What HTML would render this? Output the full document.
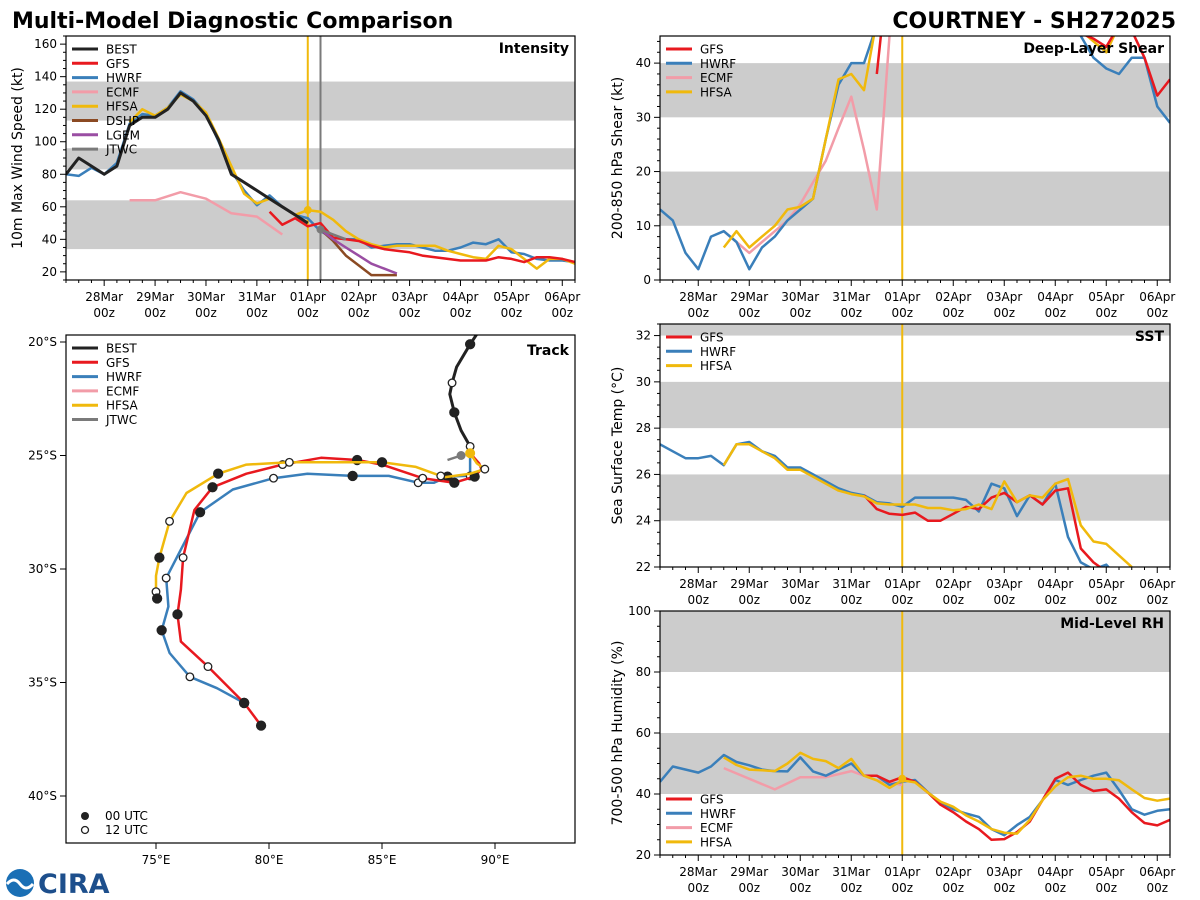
<!DOCTYPE html>
<html><head><meta charset="utf-8"><style>
html,body{margin:0;padding:0;background:#fff;}
svg{display:block;font-family:"DejaVu Sans","Liberation Sans",sans-serif;}
</style></head><body>
<svg id="s" width="1200" height="900" viewBox="0 0 1200 900">
<text x="12" y="28" font-size="22" font-weight="bold">Multi-Model Diagnostic Comparison</text>
<text x="1176" y="28" font-size="22" font-weight="bold" text-anchor="end">COURTNEY - SH272025</text>
<g>
<circle cx="20" cy="883" r="14" fill="#1a6fb5"/>
<path d="M7 884 Q14 876 20 884 T33 884" stroke="#fff" stroke-width="3" fill="none"/>
<text x="38" y="893" font-size="27" font-weight="bold" fill="#1d4f8c">CIRA</text>
</g>
</svg>
<script>
// ---------- time series data (hours from 28Mar 00z) ----------
const intBestT=[-18,-12,-6,0,6,12,18,24,30,36,42,48,54,60,66,72,78,84,90,96];
const intBestV=[80,90,85,80,85,110,115,115,120,130,125,116,101,80,75,70,65,60,55,50];
const intHwrfT=[-18,-12,-6,0,6,12,18,24,30,36,42,48,54,60,66,72,78,84,90,96,102,108,114,120,126,132,138,144,150,156,162,168,174,180,186,192,198,204,210,216,222];
const intHwrfV=[80,79,84,80,87,111,117,116,121,131,126,117,100,82,70,61,67,60,55,53,45,41,40,40,35,36,37,37,35,33,33,35,38,37,40,32,31,28,27,27,26];
const intHfsaT=[12,18,24,30,36,42,48,54,60,66,72,78,84,90,96,102,108,114,120,126,132,138,144,150,156,162,168,174,180,186,192,198,204,210,216,222];
const intHfsaV=[112,120,116,121,129,125,118,102,85,68,62,65,60,55,58,57,52,45,40,37,35,36,36,36,36,33,31,29,28,36,34,28,22,28,28,25];
const intGfsT=[78,84,90,96,102,108,114,120,126,132,138,144,150,156,162,168,174,180,186,192,198,204,210,216,222];
const intGfsV=[57,49,53,48,50,41,40,39,36,34,33,32,30,29,28,27,27,27,29,28,26,29,29,28,26];
const intEcmfT=[12,24,36,48,60,72,84];
const intEcmfV=[64,64,69,65,56,54,43];
const intJtwcT=[102,108,114];
const intJtwcV=[46,43,40];
const intDshpT=[102,108,114,120,126,132,138];
const intDshpV=[46,39,30,24,18,18,18];
const intLgemT=[102,108,114,120,126,132,138];
const intLgemV=[46,40,35,30,25,22,19];

const shrHwrfT=[-18,-12,-6,0,6,12,18,24,30,36,42,48,54,60,66,72,78,84,90,168,174,180,186,192,198,204,210,216,222];
const shrHwrfV=[13,11,5,2,8,9,7,2,6,8,11,13,15,26,36,40,40,47,60,60,48,45,41,39,38,41,41,32,29];
const shrHfsaT=[12,18,24,30,36,42,48,54,60,66,72,78,84,90,174,180,186,192,198,204];
const shrHfsaV=[6,9,6,8,10,13,13.5,15,26,37,38,35,48,60,50,46,44,42,47,52];
const shrGfsT=[84,90,168,174,180,186,192,198,204,210,216,222];
const shrGfsV=[38,60,60,48,45.5,44.5,43,47,46,41,34,37];
const shrEcmfT=[12,18,24,30,36,42,48,54,60,66,72,78,84,90,96];
const shrEcmfV=[9,7,5,7,9,11,14,18,22,28,33.8,24,13,45,60];

const sstHwrfT=[-18,-12,-6,0,6,12,18,24,30,36,42,48,54,60,66,72,78,84,90,96,102,108,114,120,126,132,138,144,150,156,162,168,174,180,186,192,198,204];
const sstHwrfV=[27.3,27.0,26.7,26.7,26.8,26.4,27.3,27.4,27.0,26.8,26.3,26.3,26.0,25.7,25.4,25.2,25.1,24.8,24.75,24.6,25.0,25.0,25.0,25.0,24.9,24.4,25.6,25.4,24.2,25.1,24.7,25.6,23.3,22.2,21.9,22.1,21.5,21.0];
const sstGfsT=[78,84,90,96,102,108,114,120,126,132,138,144,150,156,162,168,174,180,186,192];
const sstGfsV=[25.1,24.5,24.3,24.25,24.35,24.0,24.0,24.3,24.6,24.5,25.0,25.2,24.8,25.1,24.7,25.3,25.4,22.8,22.2,21.8];
const sstHfsaT=[12,18,24,30,36,42,48,54,60,66,72,78,84,90,96,102,108,114,120,126,132,138,144,150,156,162,168,174,180,186,192,198,204];
const sstHfsaV=[26.4,27.3,27.3,27.0,26.7,26.2,26.2,25.9,25.6,25.3,25.15,25.05,24.75,24.7,24.7,24.7,24.55,24.55,24.45,24.5,24.7,24.5,25.7,24.8,25.1,25.0,25.6,25.8,23.8,23.1,23.0,22.5,22.0];

const rhHwrfT=[-18,-12,0,6,12,18,24,30,36,42,48,54,60,66,72,78,84,90,96,102,108,114,120,126,132,138,144,150,156,162,168,174,180,186,192,198,204,210,216,222];
const rhHwrfV=[44,49,47,49,52.8,50.5,49.4,48,47.5,47.4,52,47.4,46,48,50,46,46,43,44,44.6,40.6,37.3,35,33.6,32.5,28.5,26.5,29.8,32.5,38,44.6,43,44.6,46,47,41.3,35,33.2,34.5,35];
const rhGfsT=[78,84,90,96,102,108,114,120,126,132,138,144,150,156,162,168,174,180,186,192,198,204,210,216,222];
const rhGfsV=[46,46,44,45.5,44,40.5,36.5,34,31,28.5,25,25.2,27.5,31,38,45,47,43,41,41.5,38.5,34,30.5,29.7,31.5];
const rhHfsaT=[12,18,24,30,36,42,48,54,60,66,72,78,84,90,96,102,108,114,120,126,132,138,144,150,156,162,168,174,180,186,192,198,204,210,216,222];
const rhHfsaV=[52,49.5,48,47.8,47.5,50,53.5,51.5,50.8,48.5,51.5,46,44.5,42,44.5,43.8,40.5,37.5,35.8,33,31,28.5,27.3,27,31.5,38,42.5,45.5,46,45,45,44.5,41.5,38.7,37.8,38.5];
const rhEcmfT=[12,36,48,60,72,84,96];
const rhEcmfV=[48.5,41.5,45.5,45.5,47.5,44.5,43];

// ---------- track data (lon E, lat S, marker: f=00UTC, o=12UTC, n=none) ----------
const trkBestLon=[89.3,88.9,88.3,88.1,88.0,88.2,88.5,88.9,88.9];
const trkBestLat=[19.5,20.1,21.1,21.8,22.3,23.1,23.9,24.6,25.0];
const trkBestMk=['n','f','n','o','n','f','n','o','n'];
const trkGfsLon=[88.9,89.3,89.4,89.1,88.2,86.8,85.0,83.9,82.3,80.6,79.0,77.5,76.7,76.2,76.1,75.95,76.1,77.3,78.9,79.65];
const trkGfsLat=[24.9,25.35,25.6,25.93,26.2,26.0,25.4,25.2,25.1,25.4,25.8,26.4,27.4,29.5,30.9,32.0,33.2,34.3,35.9,36.9];
const trkGfsMk=['n','n','n','f','f','o','n','f','n','o','n','f','n','o','n','f','n','o','f','f'];
const trkHwrfLon=[88.9,88.9,88.7,87.9,87.3,86.6,85.3,83.7,81.7,80.2,78.4,76.95,75.45,75.55,75.25,75.6,76.5,77.7,78.9];
const trkHwrfLat=[24.9,25.9,25.9,25.93,26.2,26.2,25.9,25.9,25.8,26.0,26.5,27.5,30.4,31.65,32.7,33.7,34.75,35.25,35.9];
const trkHwrfMk=['n','o','n','f','n','o','n','f','n','o','n','f','o','n','f','n','o','n','f'];
const trkHfsaLon=[88.9,89.2,89.55,88.9,87.8,87.6,86.5,85.0,83.9,80.9,79.0,77.75,76.35,75.6,75.15,75.0,75.0,75.05];
const trkHfsaLat=[24.9,25.35,25.6,25.8,25.95,25.9,25.5,25.3,25.3,25.3,25.4,25.8,26.65,27.9,29.5,30.3,31.0,31.3];
const trkHfsaMk=['n','n','o','n','n','o','n','f','n','o','n','f','n','o','f','n','o','f'];
const trkJtwcLon=[87.9,88.5];
const trkJtwcLat=[25.2,25.0];

const dateLabels=['28Mar','29Mar','30Mar','31Mar','01Apr','02Apr','03Apr','04Apr','05Apr','06Apr'];
const C={BEST:'#222222',GFS:'#e8191f',HWRF:'#3a7fba',ECMF:'#f29ca8',HFSA:'#f0b90c',DSHP:'#8b4a23',LGEM:'#9a4ea3',JTWC:'#7a7a7a'};

const NS='http://www.w3.org/2000/svg';
const svg=document.getElementById('s');
function mk(tag,attrs,parent){const e=document.createElementNS(NS,tag);for(const k in attrs)e.setAttribute(k,attrs[k]);(parent||svg).appendChild(e);return e;}
let clipN=0;

function timePanel(cfg){
  const g=mk('g',{});
  
  
  const L=cfg.L,R=cfg.R,T=cfg.T,B=cfg.B;
  const xs=t=>L+(t+18)*(R-L)/240;
  const ys=v=>B-(v-cfg.ymin)*(B-T)/(cfg.ymax-cfg.ymin);
  cfg.bands.forEach(b=>{
    const r=mk('rect',{x:L,y:ys(Math.min(b[1],cfg.ymax)),width:R-L,height:ys(b[0])-ys(Math.min(b[1],cfg.ymax)),fill:'#cccccc'},g);
    
    
  });
  const id='c'+(clipN++);
  const cp=mk('clipPath',{id:id},g);mk('rect',{x:L,y:T,width:R-L,height:B-T},cp);
  const lg=mk('g',{'clip-path':'url(#'+id+')'},g);
  (cfg.vlines||[]).forEach(v=>{
    const l=mk('line',{x1:xs(v[0]),x2:xs(v[0]),y1:T,y2:B,stroke:v[1],'stroke-width':2},lg);
    
    
  });
  cfg.series.forEach(s=>{
    let d='';s.t.forEach((t,i)=>{d+=(i?'L':'M')+xs(t).toFixed(1)+' '+ys(s.v[i]).toFixed(1);});
    const p=mk('path',{d:d,fill:'none',stroke:C[s.k],'stroke-width':s.k==='BEST'?3:2.5,'stroke-linejoin':'round'},lg);
    
    
  });
  (cfg.dots||[]).forEach(dd=>{
    const c=mk('circle',{cx:xs(dd[0]),cy:ys(dd[1]),r:4,fill:dd[2]},lg);
    
    
  });
  const fr=mk('rect',{x:L,y:T,width:R-L,height:B-T,fill:'none',stroke:'#000','stroke-width':1.2},g);
  
  
  for(let t=-18;t<=222;t+=6){
    const maj=(t%24===0);
    mk('line',{x1:xs(t),x2:xs(t),y1:B,y2:B+(maj?6:3),stroke:'#000','stroke-width':1},g);
  }
  dateLabels.forEach((lab,i)=>{
    const x=xs(i*24);
    const a=mk('text',{x:x,y:B+21,'font-size':12,'text-anchor':'middle'},g);a.textContent=lab;
    
    
    const b=mk('text',{x:x,y:B+37,'font-size':12,'text-anchor':'middle'},g);b.textContent='00z';
    
    
  });
  for(let v=cfg.ymin;v<=cfg.ymax+0.001;v+=cfg.minor){
    const vv=Math.round(v*100)/100;
    const maj=Math.abs(vv/cfg.major-Math.round(vv/cfg.major))<1e-6 && vv>=cfg.firstMajor;
    mk('line',{x1:L,x2:L-(maj?6:3),y1:ys(vv),y2:ys(vv),stroke:'#000','stroke-width':1},g);
    if(maj){const tx=mk('text',{x:L-9,y:ys(vv)+4,'font-size':12,'text-anchor':'end'},g);tx.textContent=vv;
      
      }
  }
  const yt=mk('text',{x:0,y:0,'font-size':14,'text-anchor':'middle',transform:'translate('+cfg.ytx+','+((T+B)/2)+') rotate(-90)'},g);
  yt.textContent=cfg.ytitle;
  
  
  const pt=mk('text',{x:R-6,y:T+17,'font-size':14,'font-weight':'bold','text-anchor':'end'},g);
  pt.textContent=cfg.title;
  
  
  legend(g,L,cfg.legY,cfg.legend);
}
function legend(g,L,y0,keys){
  const lg=mk('g',{},g);
  
  
  keys.forEach((k,i)=>{
    const y=y0+i*14.3;
    const e=mk('g',{},lg);
    
    
    mk('line',{x1:L+6,x2:L+32,y1:y,y2:y,stroke:C[k],'stroke-width':3},e);
    const t=mk('text',{x:L+40,y:y+4.5,'font-size':12},e);t.textContent=k;
  });
}

timePanel({name:'intensity',L:66,R:575,T:36,B:280,ymin:15,ymax:165,minor:5,major:20,firstMajor:20,
  bands:[[34,64],[83,96],[113,137]],vlines:[[96,C.HFSA],[102,C.JTWC]],
  dots:[[96,58,C.HFSA],[102,46,C.JTWC]],
  series:[{k:'ECMF',t:intEcmfT,v:intEcmfV},{k:'HWRF',t:intHwrfT,v:intHwrfV},{k:'HFSA',t:intHfsaT,v:intHfsaV},
    {k:'GFS',t:intGfsT,v:intGfsV},{k:'DSHP',t:intDshpT,v:intDshpV},{k:'LGEM',t:intLgemT,v:intLgemV},
    {k:'JTWC',t:intJtwcT,v:intJtwcV},{k:'BEST',t:intBestT,v:intBestV}],
  ytx:22,ytitle:'10m Max Wind Speed (kt)',title:'Intensity',legY:49,
  legend:['BEST','GFS','HWRF','ECMF','HFSA','DSHP','LGEM','JTWC']});
timePanel({name:'shear',L:660,R:1170,T:36,B:280,ymin:0,ymax:45,minor:2,major:10,firstMajor:0,
  bands:[[10,20],[30,40]],vlines:[[96,C.HFSA]],
  series:[{k:'ECMF',t:shrEcmfT,v:shrEcmfV},{k:'HWRF',t:shrHwrfT,v:shrHwrfV},{k:'HFSA',t:shrHfsaT,v:shrHfsaV},{k:'GFS',t:shrGfsT,v:shrGfsV}],
  ytx:622,ytitle:'200-850 hPa Shear (kt)',title:'Deep-Layer Shear',legY:49,legend:['GFS','HWRF','ECMF','HFSA']});
timePanel({name:'sst',L:660,R:1170,T:324,B:567,ymin:22,ymax:32.5,minor:0.5,major:2,firstMajor:22,
  bands:[[24,26],[28,30],[32,33]],vlines:[[96,C.HFSA]],
  series:[{k:'HWRF',t:sstHwrfT,v:sstHwrfV},{k:'GFS',t:sstGfsT,v:sstGfsV},{k:'HFSA',t:sstHfsaT,v:sstHfsaV}],
  ytx:622,ytitle:'Sea Surface Temp (°C)',title:'SST',legY:337,legend:['GFS','HWRF','HFSA']});
timePanel({name:'rh',L:660,R:1170,T:611,B:855,ymin:20,ymax:100,minor:5,major:20,firstMajor:20,
  bands:[[40,60],[80,100]],vlines:[[96,C.HFSA]],dots:[[96,45,C.HFSA]],
  series:[{k:'ECMF',t:rhEcmfT,v:rhEcmfV},{k:'HWRF',t:rhHwrfT,v:rhHwrfV},{k:'GFS',t:rhGfsT,v:rhGfsV},{k:'HFSA',t:rhHfsaT,v:rhHfsaV}],
  ytx:622,ytitle:'700-500 hPa Humidity (%)',title:'Mid-Level RH',legY:799,legend:['GFS','HWRF','ECMF','HFSA']});

// ---------- track panel ----------
(function(){
  const L=66,R=575,T=335,B=843;
  const xs=lon=>156+(lon-75)*22.6;
  const ys=lat=>342+(lat-20)*22.7;
  const g=mk('g',{});
  
  
  const cp=mk('clipPath',{id:'ctrk'},g);mk('rect',{x:L,y:T,width:R-L,height:B-T},cp);
  const lg=mk('g',{'clip-path':'url(#ctrk)'},g);
  function track(k,lon,lat,mkr){
    let d='';lon.forEach((x,i)=>{d+=(i?'L':'M')+xs(x).toFixed(1)+' '+ys(lat[i]).toFixed(1);});
    const p=mk('path',{d:d,fill:'none',stroke:C[k],'stroke-width':k==='BEST'?3:2.5,'stroke-linejoin':'round'},lg);
    
    
    if(mkr)mkr.forEach((m,i)=>{
      if(m==='n')return;
      const c=mk('circle',{cx:xs(lon[i]),cy:ys(lat[i]),r:m==='f'?4.5:3.8,fill:m==='f'?'#222':'#fff',stroke:'#222','stroke-width':1.3},lg);
      
      
    });
  }
  track('HWRF',trkHwrfLon,trkHwrfLat,trkHwrfMk);
  track('GFS',trkGfsLon,trkGfsLat,trkGfsMk);
  track('HFSA',trkHfsaLon,trkHfsaLat,trkHfsaMk);
  track('BEST',trkBestLon,trkBestLat,trkBestMk);
  track('JTWC',trkJtwcLon,trkJtwcLat,null);
  const jd=mk('circle',{cx:xs(trkJtwcLon[1]),cy:ys(trkJtwcLat[1]),r:4.5,fill:C.JTWC},lg);
  
  
  const hd=mk('circle',{cx:xs(trkHfsaLon[0]),cy:ys(trkHfsaLat[0]),r:5,fill:C.HFSA},lg);
  
  
  const fr=mk('rect',{x:L,y:T,width:R-L,height:B-T,fill:'none',stroke:'#000','stroke-width':1.2},g);
  
  
  [75,80,85,90].forEach(lon=>{
    mk('line',{x1:xs(lon),x2:xs(lon),y1:B,y2:B+6,stroke:'#000'},g);
    const t=mk('text',{x:xs(lon),y:B+21,'font-size':12,'text-anchor':'middle'},g);t.textContent=lon+'°E';
    
    
  });
  [20,25,30,35,40].forEach(lat=>{
    mk('line',{x1:L,x2:L-6,y1:ys(lat),y2:ys(lat),stroke:'#000'},g);
    const t=mk('text',{x:L-9,y:ys(lat)+4,'font-size':12,'text-anchor':'end'},g);t.textContent=lat+'°S';
    
    
  });
  const pt=mk('text',{x:R-6,y:T+20,'font-size':14,'font-weight':'bold','text-anchor':'end'},g);pt.textContent='Track';
  
  
  legend(g,L,348,['BEST','GFS','HWRF','ECMF','HFSA','JTWC']);
  const ml=mk('g',{},g);
  
  
  mk('circle',{cx:85,cy:816,r:4,fill:'#222'},ml);
  mk('circle',{cx:85,cy:830,r:3.5,fill:'#fff',stroke:'#222','stroke-width':1.3},ml);
  const a=mk('text',{x:105,y:820,'font-size':12},ml);a.textContent='00 UTC';
  const b=mk('text',{x:105,y:834,'font-size':12},ml);b.textContent='12 UTC';
})();
</script>
</body></html>
